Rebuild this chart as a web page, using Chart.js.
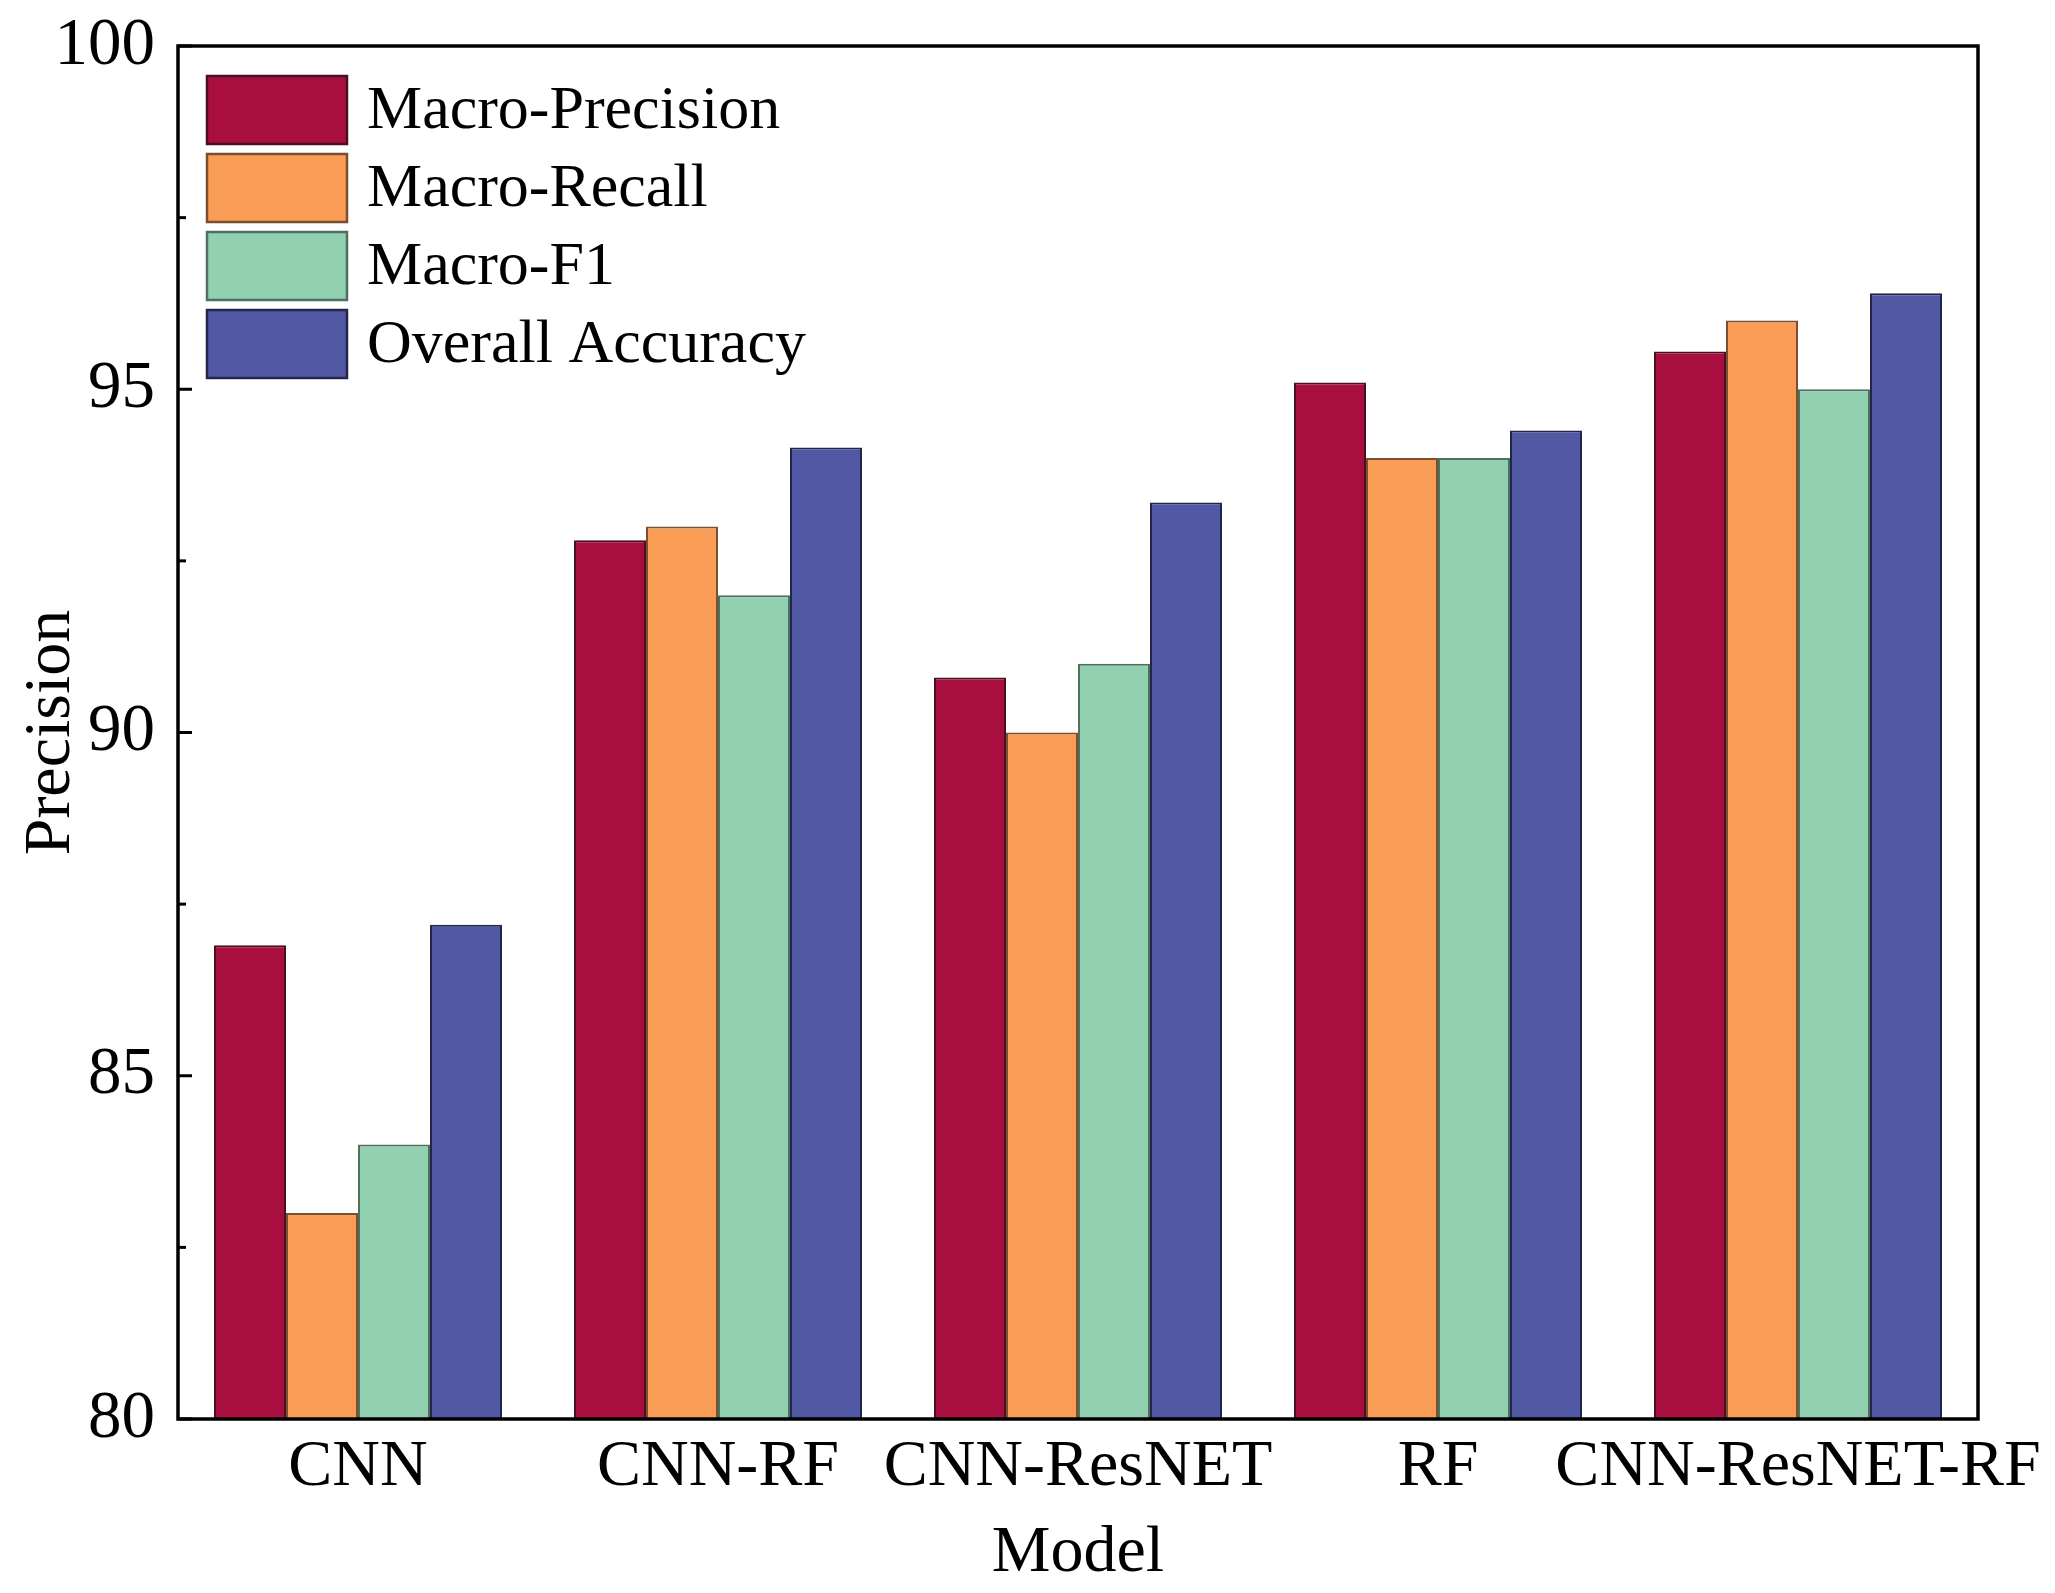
<!DOCTYPE html>
<html>
<head>
<meta charset="utf-8">
<script src="https://cdn.jsdelivr.net/npm/chart.js@4.4.1/dist/chart.umd.min.js"></script>
<style>
  html, body { margin: 0; padding: 0; background: #fff; }
  #wrap { width: 2055px; height: 1593px; }
</style>
</head>
<body>
<div id="wrap"><canvas id="precision-chart" width="2055" height="1593"></canvas></div>
<script>
// categories and series
const models = ['CNN', 'CNN-RF', 'CNN-ResNET', 'RF', 'CNN-ResNET-RF'];
const macroPrecision = [86.9, 92.8, 90.8, 95.1, 95.55];
const macroRecall = [83.0, 93.0, 90.0, 94.0, 96.0];
const macroF1 = [84.0, 92.0, 91.0, 94.0, 95.0];
const overallAccuracy = [87.2, 94.15, 93.35, 94.4, 96.4];
const seriesNames = ['Macro-Precision', 'Macro-Recall', 'Macro-F1', 'Overall Accuracy'];
const yTicks = [80, 85, 90, 95, 100];

const colors = ['#a80f3e', '#f99d57', '#91d0b1', '#5159a5'];
const edges = ['#4a1020', '#7a5030', '#4f6f5f', '#22264a'];
const FONT = "'Liberation Serif', 'Times New Roman', serif";

// frame, inward ticks and the legend box
const framePlugin = {
  id: 'frame',
  afterDraw(chart) {
    const ctx = chart.ctx;
    const area = chart.chartArea;
    const y = chart.scales.y;
    ctx.save();
    ctx.strokeStyle = '#000';
    ctx.lineWidth = 3.5;
    ctx.strokeRect(area.left, area.top, area.right - area.left, area.bottom - area.top);

    // y ticks pointing inward, minors halfway
    ctx.lineWidth = 3;
    yTicks.forEach((v, i) => {
      const py = y.getPixelForValue(v);
      ctx.beginPath();
      ctx.moveTo(area.left, py);
      ctx.lineTo(area.left + 14, py);
      ctx.stroke();
      if (i < yTicks.length - 1) {
        const my = y.getPixelForValue((v + yTicks[i + 1]) / 2);
        ctx.beginPath();
        ctx.moveTo(area.left, my);
        ctx.lineTo(area.left + 8, my);
        ctx.stroke();
      }
    });

    // legend
    const boxW = 140, boxH = 68, rowH = 78;
    const lx = area.left + 29, ly = area.top + 30;
    ctx.font = `62px ${FONT}`;
    ctx.textBaseline = 'middle';
    ctx.textAlign = 'left';
    chart.data.datasets.forEach((ds, i) => {
      const top = ly + i * rowH;
      ctx.fillStyle = ds.backgroundColor;
      ctx.fillRect(lx, top, boxW, boxH);
      ctx.strokeStyle = ds.borderColor;
      ctx.lineWidth = 2.5;
      ctx.strokeRect(lx, top, boxW, boxH);
      ctx.fillStyle = '#000';
      ctx.fillText(ds.label, lx + boxW + 20, top + boxH / 2 + 2);
    });
    ctx.restore();
  }
};

const ctx = document.getElementById('precision-chart');
const seriesData = [macroPrecision, macroRecall, macroF1, overallAccuracy];

new Chart(ctx, {
  type: 'bar',
  data: {
    labels: models,
    datasets: seriesData.map((d, i) => ({
      label: seriesNames[i],
      data: d,
      backgroundColor: colors[i],
      borderColor: edges[i],
      borderWidth: 2,
      categoryPercentage: 0.8,
      barPercentage: 1.0
    }))
  },
  options: {
    responsive: false,
    animation: false,
    devicePixelRatio: 1,
    layout: { padding: { top: 46, right: 77, left: 0, bottom: 0 } },
    plugins: {
      legend: { display: false },
      tooltip: { enabled: false }
    },
    scales: {
      x: {
        grid: { display: false, drawTicks: false },
        border: { display: false },
        ticks: {
          color: '#000',
          padding: 9,
          maxRotation: 0,
          minRotation: 0,
          autoSkip: false,
          font: { family: FONT, size: 66 }
        },
        title: {
          display: true,
          text: 'Model',
          color: '#000',
          padding: { top: 0, bottom: 0 },
          font: { family: FONT, size: 66 }
        },
        afterFit(scale) {
          scale.height = 174;
          scale.paddingLeft = 0;
          scale.paddingRight = 0;
        }
      },
      y: {
        min: 80,
        max: 100,
        afterBuildTicks(scale) { scale.ticks = yTicks.map(v => ({ value: v })); },
        grid: { display: false, drawTicks: false },
        border: { display: false },
        ticks: {
          color: '#000',
          padding: 23,
          font: { family: FONT, size: 67 }
        },
        title: {
          display: true,
          text: 'Precision',
          color: '#000',
          padding: { top: 12, bottom: 0 },
          font: { family: FONT, size: 66 }
        },
        afterFit(scale) {
          scale.width = 178;
          scale.paddingTop = 0;
          scale.paddingBottom = 0;
        }
      }
    }
  },
  plugins: [framePlugin]
});
</script>
</body>
</html>
